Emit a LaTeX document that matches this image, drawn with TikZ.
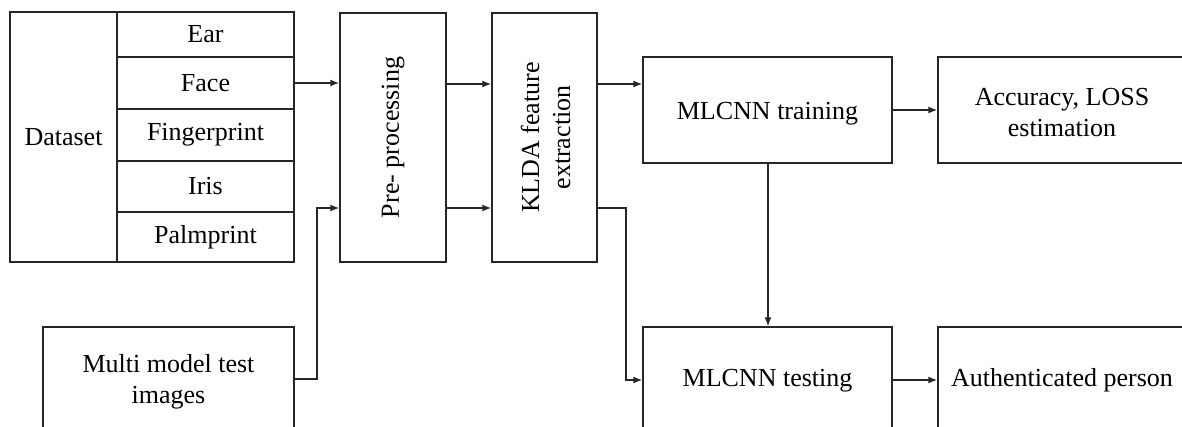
\documentclass[tikz,border=0pt]{standalone}
\usepackage{fontspec}
\setmainfont{Liberation Serif}
\usetikzlibrary{arrows.meta}
\tikzset{
  box/.style={draw=black!85, line width=1.4pt, inner sep=0pt, align=center, font=\fontsize{26}{31}\selectfont},
  conn/.style={draw=black!85, line width=1.4pt, -{Latex[length=9pt,width=7pt]}},
}
\begin{document}
\begin{tikzpicture}[x=1pt,y=-1pt]
\useasboundingbox (0,0) rectangle (1182,427);
\clip (0,0) rectangle (1182,427);
% Dataset block
\node[box, minimum width=107pt, minimum height=250pt] (ds) at (63.5,137) {Dataset};
\node[box, minimum width=177pt, minimum height=45pt] (ear) at (205.5,34.5) {Ear};
\node[box, minimum width=177pt, minimum height=52pt] (face) at (205.5,83) {Face};
\node[box, minimum width=177pt, minimum height=52pt] (finger) at (205.5,135) {Fingerprint};
\node[box, minimum width=177pt, minimum height=51pt] (iris) at (205.5,186.5) {Iris};
\node[box, minimum width=177pt, minimum height=50pt] (palm) at (205.5,237) {Palmprint};
% Processing
\node[box, minimum width=106pt, minimum height=249pt] (pre) at (393,137.5) {};
\node[rotate=90, font=\fontsize{26}{31}\selectfont] at (pre.center) {Pre- processing};
\node[box, minimum width=105pt, minimum height=249pt] (klda) at (544.5,137.5) {};
\node[rotate=90, align=center, font=\fontsize{26}{31}\selectfont] at ([xshift=1pt]klda.center) {KLDA feature\\extraction};
% Right part
\node[box, minimum width=249pt, minimum height=106pt] (train) at (767.5,110) {};
\node[font=\fontsize{26}{31}\selectfont] at ([yshift=-4pt]train.center) {MLCNN training};
\node[box, minimum width=248pt, minimum height=106pt] (acc) at (1062,110) {};
\node[align=center, font=\fontsize{26}{31}\selectfont] at ([yshift=-3pt]acc.center) {Accuracy, LOSS\\estimation};
\node[box, minimum width=249pt, minimum height=107pt] (test) at (767.5,380.5) {MLCNN testing};
\node[box, minimum width=248pt, minimum height=107pt] (auth) at (1062,380.5) {Authenticated person};
\node[box, minimum width=251pt, minimum height=107pt] (multi) at (168.5,380.5) {};
\node[align=center, font=\fontsize{26}{31}\selectfont] at ([yshift=-1.5pt]multi.center) {Multi model test\\images};
% connectors
\coordinate (pu) at (pre.west |- 0,84);
\coordinate (pl) at (pre.west |- 0,208);
\coordinate (ku) at (klda.west |- 0,84);
\coordinate (kl) at (klda.west |- 0,208);
\draw[conn] (face.east) -- (face.east -| pre.west);
\draw[conn] (pre.east |- pu) -- (ku);
\draw[conn] (pre.east |- pl) -- (kl);
\draw[conn] (klda.east |- ku) -- (train.west |- ku);
\draw[conn] (train.east) -- (acc.west);
\draw[conn] (train.south -| 768,0) -- (test.north -| 768,0);
\draw[conn] (test.east |- 0,380) -- (auth.west |- 0,380);
\draw[conn] (multi.east |- 0,379) -- (317,379) -- (317,208) -- (pl);
\draw[conn] (klda.east |- kl) -- (626,208) -- (626,380) -- (test.west |- 0,380);
\end{tikzpicture}
\end{document}
